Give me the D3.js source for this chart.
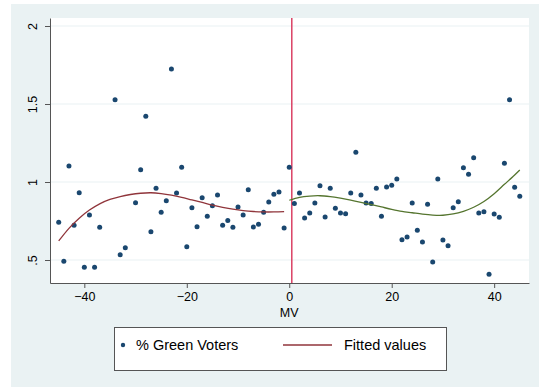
<!DOCTYPE html>
<html>
<head>
<meta charset="utf-8">
<script src="https://cdn.jsdelivr.net/npm/d3@7"></script>
<style>
  html, body { margin: 0; padding: 0; background: #ffffff; }
  svg { display: block; font-family: Arial, "Liberation Sans", sans-serif; }
</style>
</head>
<body>
<svg id="chart" width="539" height="387"></svg>
<script>
// Margin of victory (MV) and share of Green voters per observation
const mv = [
  -45,-44,-43,-42,-41,-40,-39,-38,-37,-34,-33,-32,-30,-29,-28,-27,-26,-25,-24,-23,
  -22,-21,-20,-19,-18,-17,-16,-15,-14,-13,-12,-11,-10,-9,-8,-7,-6,-5,-4,-3,-2,-1,0,
  1,2,3,4,5,6,7,8,9,10,11,12,13,14,15,16,17,18,19,20,21,22,23,24,25,26,27,28,29,30,
  31,32,33,34,35,36,37,38,39,40,41,42,43,44,45
];
const greenVoters = [
  0.742,0.492,1.103,0.722,0.931,0.453,0.788,0.453,0.710,1.528,0.534,0.579,0.867,1.079,1.421,0.681,0.960,0.806,0.880,1.724,
  0.929,1.094,0.585,0.835,0.713,0.899,0.780,0.848,0.917,0.722,0.754,0.710,0.840,0.788,0.951,0.712,0.729,0.806,0.872,0.921,0.936,0.705,1.094,
  0.862,0.929,0.769,0.801,0.865,0.976,0.776,0.960,0.831,0.801,0.797,0.929,1.190,0.917,0.865,0.863,0.960,0.780,0.968,0.979,1.019,0.630,0.647,0.865,0.690,0.615,0.857,0.487,1.019,0.628,
  0.591,0.835,0.873,1.092,1.050,1.155,0.801,0.809,0.408,0.795,0.774,1.120,1.528,0.967,0.908
];

// Fitted values, left of the cutoff
const fitLeftX = [-45,-43,-41,-39,-37,-35,-33,-31,-29,-27,-25,-23,-21,-19,-17,-15,-13,-11,-9,-7,-5,-3,-1];
const fitLeftY = [0.622,0.703,0.768,0.820,0.860,0.888,0.907,0.920,0.928,0.931,0.926,0.916,0.902,0.885,0.869,0.852,0.838,0.826,0.817,0.811,0.808,0.808,0.810];

// Fitted values, right of the cutoff
const fitRightX = [0,2,4,6,8,10,12,14,16,18,20,22,24,26,28,30,32,34,36,38,40,42,44,45];
const fitRightY = [0.883,0.902,0.910,0.912,0.906,0.896,0.884,0.870,0.855,0.840,0.825,0.812,0.803,0.794,0.788,0.787,0.795,0.812,0.838,0.875,0.925,0.985,1.045,1.077];

const cutoff = 0.5;
const xTicks = [-40, -20, 0, 20, 40];
const yTicks = [0.5, 1, 1.5, 2];
const yTickLabels = [".5", "1", "1.5", "2"];
const legendLabels = ["% Green Voters", "Fitted values"];

const colors = {
  outer: "#eaf2f3",
  grid: "#eaf2f3",
  point: "#1a476f",
  fitLeft: "#90353b",
  fitRight: "#55752f",
  cutoff: "#d8345a",
  axis: "#555555",
  text: "#000000"
};

const svg = d3.select("#chart");
const plot = { left: 50, right: 529, top: 18, bottom: 283 };

// Outer graph region and white plot region
svg.append("rect").attr("x", 11).attr("y", 4).attr("width", 528).attr("height", 383).attr("fill", colors.outer);
svg.append("rect").attr("x", plot.left).attr("y", plot.top)
  .attr("width", plot.right - plot.left).attr("height", plot.bottom - plot.top).attr("fill", "#ffffff");

const x = d3.scaleLinear().domain([-46.7, 46.8]).range([plot.left, plot.right]);
const y = d3.scaleLinear().domain([0.3526, 2.0513]).range([plot.bottom, plot.top]);

// Horizontal gridlines
svg.append("g").selectAll("line").data(yTicks).join("line")
  .attr("x1", plot.left).attr("x2", plot.right)
  .attr("y1", d => y(d)).attr("y2", d => y(d))
  .attr("stroke", colors.grid).attr("stroke-width", 1.2);

// Y axis
const yAxis = svg.append("g").attr("transform", `translate(${plot.left},0)`)
  .call(d3.axisLeft(y).tickValues(yTicks).tickSize(5).tickSizeOuter(0)
    .tickFormat((d, i) => yTickLabels[i]));
yAxis.select(".domain").attr("stroke", colors.axis);
yAxis.selectAll(".tick line").attr("stroke", colors.axis);
yAxis.selectAll(".tick text")
  .attr("x", 0).attr("dy", "0.35em")
  .attr("text-anchor", "middle")
  .attr("transform", "translate(-17,0) rotate(-90)")
  .attr("font-size", 12.5).attr("fill", colors.text)
  .attr("font-family", "Arial, 'Liberation Sans', sans-serif");

// X axis
const xAxis = svg.append("g").attr("transform", `translate(0,${plot.bottom})`)
  .call(d3.axisBottom(x).tickValues(xTicks).tickSize(5).tickSizeOuter(0).tickPadding(4));
xAxis.select(".domain").attr("stroke", colors.axis);
xAxis.selectAll(".tick line").attr("stroke", colors.axis);
xAxis.selectAll(".tick text")
  .attr("font-size", 12.5).attr("fill", colors.text)
  .attr("font-family", "Arial, 'Liberation Sans', sans-serif");

svg.append("text").attr("x", x(0)).attr("y", 317)
  .attr("text-anchor", "middle").attr("font-size", 12.5).attr("fill", colors.text)
  .text("MV");

// Cutoff line
svg.append("line")
  .attr("x1", x(cutoff)).attr("x2", x(cutoff))
  .attr("y1", plot.top).attr("y2", plot.bottom)
  .attr("stroke", colors.cutoff).attr("stroke-width", 1.4);

// Scatter points
svg.append("g").selectAll("circle").data(mv.map((m, i) => [m, greenVoters[i]])).join("circle")
  .attr("cx", d => x(d[0])).attr("cy", d => y(d[1])).attr("r", 2.5)
  .attr("fill", colors.point);

// Fitted curves
const line = d3.line().x(d => x(d[0])).y(d => y(d[1])).curve(d3.curveCatmullRom);
svg.append("path").datum(fitLeftX.map((v, i) => [v, fitLeftY[i]]))
  .attr("d", line).attr("fill", "none").attr("stroke", colors.fitLeft).attr("stroke-width", 1.3);
svg.append("path").datum(fitRightX.map((v, i) => [v, fitRightY[i]]))
  .attr("d", line).attr("fill", "none").attr("stroke", colors.fitRight).attr("stroke-width", 1.3);

// Legend
const legend = svg.append("g");
legend.append("rect").attr("x", 114.5).attr("y", 327.5).attr("width", 332).attr("height", 43)
  .attr("fill", "#ffffff").attr("stroke", colors.axis).attr("stroke-width", 1);
legend.append("circle").attr("cx", 123).attr("cy", 345).attr("r", 2.2).attr("fill", colors.point);
legend.append("text").attr("x", 136).attr("y", 350).attr("font-size", 14.5).attr("fill", colors.text)
  .text(legendLabels[0]);
legend.append("line").attr("x1", 283).attr("x2", 332).attr("y1", 345).attr("y2", 345)
  .attr("stroke", colors.fitLeft).attr("stroke-width", 1.3);
legend.append("text").attr("x", 344).attr("y", 350).attr("font-size", 14.5).attr("fill", colors.text)
  .text(legendLabels[1]);
</script>
</body>
</html>
